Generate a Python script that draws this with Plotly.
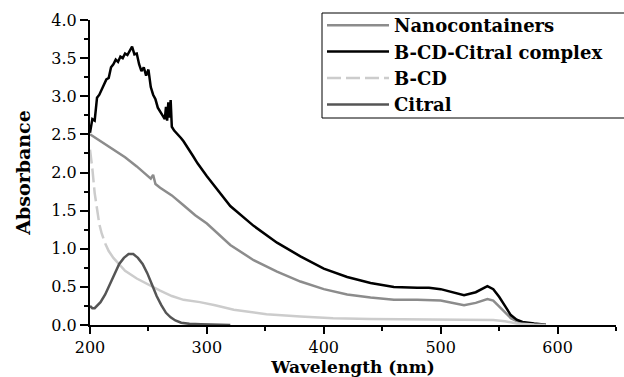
import plotly.graph_objects as go

# Nanocontainers
nano_x = [200, 210, 220, 230, 240, 250, 252, 254, 256, 260, 270, 280, 290, 300, 320, 340, 360, 380, 400,
          420, 440, 460, 480, 500, 510, 520, 530, 540, 545, 550, 555, 560, 565, 570, 580, 590]
nano_y = [2.50, 2.40, 2.30, 2.20, 2.08, 1.94, 1.92, 1.97, 1.85, 1.80, 1.70, 1.57, 1.44, 1.33, 1.05, 0.85, 0.70, 0.57, 0.47,
          0.40, 0.36, 0.33, 0.33, 0.32, 0.29, 0.26, 0.29, 0.34, 0.32, 0.24, 0.16, 0.09, 0.05, 0.03, 0.01, 0.0]

# B-CD-Citral complex
cplx_x = [200, 202, 204, 206, 208, 210, 212, 214, 216, 218, 220, 222, 224, 226, 228, 230, 232, 234, 236, 238,
          240, 242, 244, 246, 248, 250, 252, 254, 256, 258, 260, 262, 264, 265, 266, 267, 268, 269, 270, 272,
          274, 276, 278, 280, 284, 288, 292, 300, 320, 340, 360, 380, 400, 420, 440, 460, 480, 490, 500, 510,
          520, 530, 540, 545, 550, 555, 560, 565, 570, 580, 590]
cplx_y = [2.52, 2.70, 2.68, 2.98, 3.02, 3.08, 3.15, 3.22, 3.24, 3.38, 3.42, 3.48, 3.45, 3.52, 3.50, 3.56, 3.54, 3.60, 3.65, 3.55,
          3.56, 3.42, 3.33, 3.38, 3.27, 3.35, 3.12, 3.02, 2.96, 2.85, 2.80, 2.76, 2.70, 2.86, 2.68, 2.92, 2.72, 2.95, 2.60, 2.55,
          2.52, 2.49, 2.45, 2.41, 2.32, 2.22, 2.12, 1.95, 1.56, 1.30, 1.08, 0.90, 0.74, 0.63, 0.55, 0.50, 0.49, 0.49, 0.47, 0.43,
          0.39, 0.43, 0.51, 0.47, 0.37, 0.25, 0.13, 0.07, 0.04, 0.02, 0.005]

# B-CD
bcd_x = [200, 201, 202, 204, 206, 208, 210, 213, 216, 220, 224, 230, 240, 247, 260, 270, 280, 294, 307, 323,
         351, 380, 408, 440, 465, 500, 530, 545, 555, 565, 580, 590]
bcd_y = [2.30, 2.20, 2.05, 1.73, 1.50, 1.32, 1.20, 1.07, 0.97, 0.88, 0.81, 0.71, 0.61, 0.55, 0.45, 0.38, 0.33, 0.30, 0.26, 0.20,
         0.14, 0.11, 0.09, 0.08, 0.075, 0.065, 0.065, 0.065, 0.05, 0.02, 0.005, 0.0]

# Citral
cit_x = [200, 202, 204, 206, 209, 213, 217, 221, 225, 229, 233, 237, 241, 245, 249, 253, 257, 261, 265, 269,
         273, 278, 285, 295, 310, 320]
cit_y = [0.25, 0.22, 0.22, 0.25, 0.30, 0.40, 0.53, 0.68, 0.80, 0.88, 0.93, 0.93, 0.88, 0.80, 0.68, 0.53, 0.38, 0.26, 0.16, 0.10,
         0.06, 0.03, 0.015, 0.01, 0.005, 0.0]

x_ticks = [200, 300, 400, 500, 600]
y_ticks = [0.0, 0.5, 1.0, 1.5, 2.0, 2.5, 3.0, 3.5, 4.0]

SERIF = "DejaVu Serif"
k = 8  # steep part of B-CD drawn dashed

fig = go.Figure()
fig.add_trace(go.Scatter(x=nano_x, y=nano_y, mode="lines", name="Nanocontainers",
                         line=dict(color="#8c8c8c", width=2.5)))
fig.add_trace(go.Scatter(x=cplx_x, y=cplx_y, mode="lines", name="B-CD-Citral complex",
                         line=dict(color="#000000", width=2.5)))
fig.add_trace(go.Scatter(x=bcd_x[:k], y=bcd_y[:k], mode="lines", name="B-CD", legendgroup="bcd",
                         line=dict(color="#cccccc", width=2.5, dash="14px,5px")))
fig.add_trace(go.Scatter(x=bcd_x[k - 1:], y=bcd_y[k - 1:], mode="lines", name="B-CD", legendgroup="bcd",
                         showlegend=False, line=dict(color="#cccccc", width=2.5)))
fig.add_trace(go.Scatter(x=cit_x, y=cit_y, mode="lines", name="Citral",
                         line=dict(color="#555555", width=2.5)))

# legend frame (paper coords; plot area spans x 90..616 px, y 20..325 px)
fig.add_shape(type="rect", xref="paper", yref="paper",
              x0=(322 - 90) / 526, x1=(640 - 90) / 526,
              y0=(325 - 118) / 305, y1=(325 - 13) / 305,
              line=dict(color="black", width=1), fillcolor="rgba(0,0,0,0)", layer="above")

fig.update_layout(
    width=624, height=377,
    margin=dict(l=90, r=8, t=20, b=52, autoexpand=False),
    paper_bgcolor="white", plot_bgcolor="white",
    font=dict(family=SERIF, size=16, color="black"),
    showlegend=True,
    legend=dict(x=(322 - 90) / 526, y=(325 - 7) / 305, xanchor="left", yanchor="top",
                borderwidth=0, bgcolor="rgba(0,0,0,0)",
                font=dict(family=SERIF, size=18, color="black", weight="bold"),
                itemwidth=62, tracegroupgap=0),
)
fig.update_xaxes(range=[200, 650], tickvals=x_ticks, ticktext=[str(v) for v in x_ticks], automargin=False,
                 showgrid=False, zeroline=False, showline=True, linecolor="black", linewidth=2,
                 ticks="outside", ticklen=7, tickwidth=2, tickcolor="black",
                 minor=dict(dtick=50, tick0=200, ticks="outside", ticklen=4, tickwidth=2, tickcolor="black"),
                 tickfont=dict(family=SERIF, size=16),
                 title=dict(text="Wavelength (nm)", font=dict(family=SERIF, size=17, weight="bold"), standoff=6))
fig.update_yaxes(range=[0, 4.0], tickvals=y_ticks, ticktext=[f"{v:.1f}" for v in y_ticks], automargin=False,
                 showgrid=False, zeroline=False, showline=True, linecolor="black", linewidth=2,
                 ticks="outside", ticklen=8, tickwidth=2, tickcolor="black",
                 minor=dict(dtick=0.25, tick0=0, ticks="outside", ticklen=4, tickwidth=2, tickcolor="black"),
                 tickfont=dict(family=SERIF, size=16),
                 title=dict(text="Absorbance", font=dict(family=SERIF, size=19, weight="bold"), standoff=16))

fig.write_html("out.html")
